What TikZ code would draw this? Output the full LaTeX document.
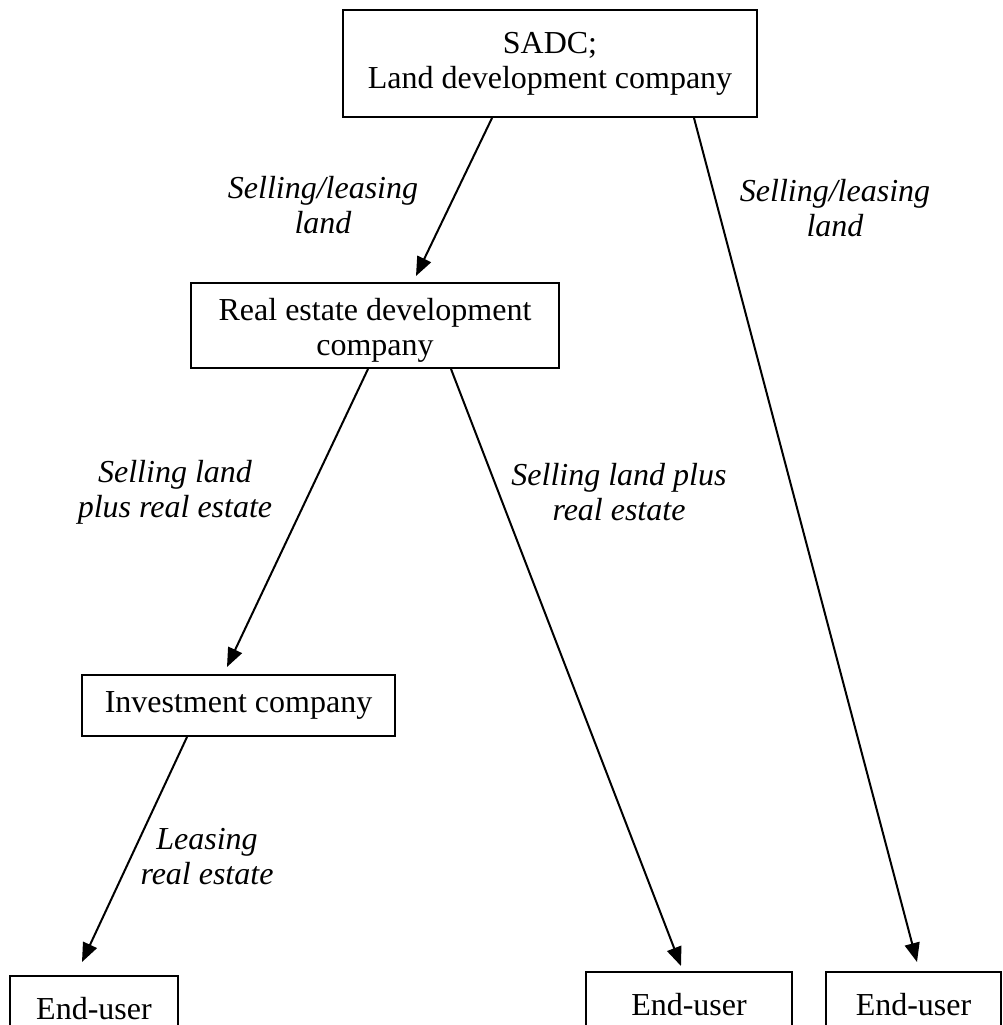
\documentclass[tikz,border=0pt]{standalone}
\usepackage{fontspec}
\setmainfont{Liberation Serif}
\usetikzlibrary{arrows.meta,calc}
\begin{document}
\begin{tikzpicture}[x=1pt,y=-1pt,
  box/.style={draw,line width=2pt,inner sep=0pt,align=center,
    font=\fontsize{32}{35}\selectfont},
  lbl/.style={inner sep=0pt,align=center,font=\fontsize{32}{35}\selectfont\itshape},
  flow/.style={line width=2pt,-{Triangle[length=19pt,width=15pt]}}]
\useasboundingbox (0,0) rectangle (1003,1025);

% organisations
\node[box,minimum width=414pt,minimum height=107pt] (sadc) at (550,63.5)
  {SADC;\\Land development company};
\node[box,minimum width=368pt,minimum height=85pt] (red) at (375,325.5)
  {\rule{0pt}{32pt}Real estate development\\company};
\node[box,minimum width=313pt,minimum height=61pt] (inv) at (238.5,705.5)
  {Investment company};
\node[box,minimum width=168pt,minimum height=66pt] (eu1) at (94,1009) {End-user};
\node[box,minimum width=206pt,minimum height=66pt] (eu2) at (689,1005) {End-user};
\node[box,minimum width=175pt,minimum height=66pt] (eu3) at (913.5,1005) {End-user};

% transactions
\draw[flow] ($(sadc.south west)+(150,0)$) -- ($(red.north west)+(226,-6)$);
\draw[flow] ($(sadc.south west)+(352,0)$) -- ($(eu3.north west)+(92,-9)$);
\draw[flow] ($(red.south west)+(178,0)$) -- ($(inv.north west)+(146,-7)$);
\draw[flow] ($(red.south west)+(261,0)$) -- ($(eu2.north west)+(96,-5)$);
\draw[flow] ($(inv.south west)+(106,0)$) -- ($(eu1.north west)+(73,-13)$);

% transaction labels
\node[lbl] (l1) at (323,205) {Selling/leasing\\land};
\node[lbl] (l2) at (835,208) {Selling/leasing\\land};
\node[lbl] (l3) at (175,492) {Selling land\\plus real estate};
\node[lbl] (l4) at (619,492) {Selling land plus\\real estate};
\node[lbl] (l5) at (207,857) {Leasing\\real estate};
\end{tikzpicture}
\end{document}
